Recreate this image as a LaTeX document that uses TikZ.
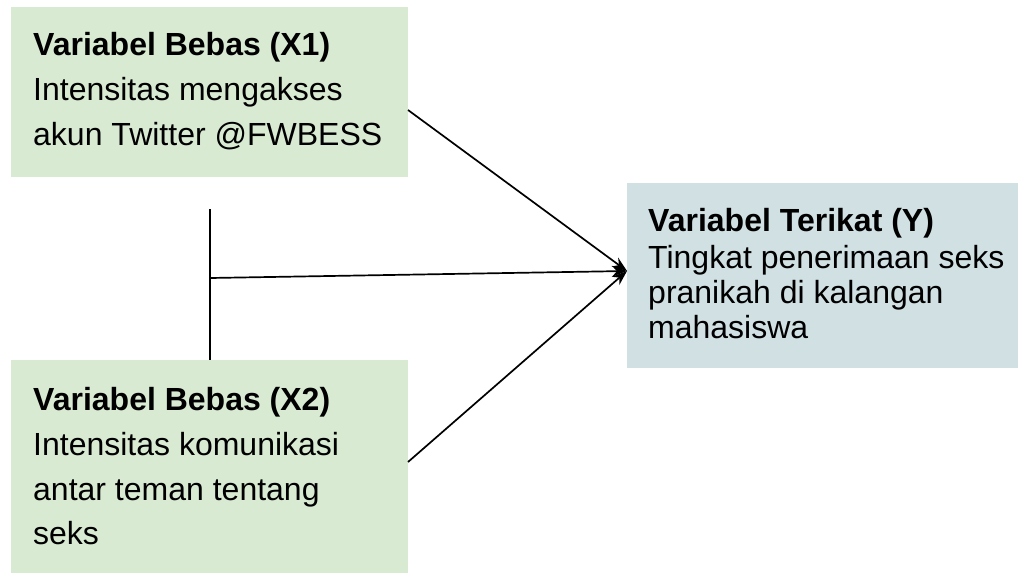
\documentclass[tikz,border=0pt]{standalone}
\usepackage{fontspec}
\setmainfont{Liberation Sans}
\usetikzlibrary{arrows.meta}
\definecolor{greenbg}{HTML}{D9EAD3}
\definecolor{bluebg}{HTML}{D0E0E3}
\begin{document}
\begin{tikzpicture}[x=1pt,y=-1pt,
  box/.style={draw=none, inner sep=0pt, outer sep=0pt, anchor=north west},
  txt/.style={anchor=base west, inner sep=0pt, font=\fontsize{32}{36}\selectfont},
  hd/.style={anchor=base west, inner sep=0pt, font=\fontsize{32}{36}\selectfont\bfseries},
  conn/.style={line width=1.7pt},
  arr/.style={conn, -{Stealth[length=15pt,width=11pt,inset=5pt]}}]
\useasboundingbox (0,0) rectangle (1019,573);
% boxes
\node[box, fill=greenbg, minimum width=397pt, minimum height=170pt] (bx1) at (11,7) {};
\node[box, fill=greenbg, minimum width=397pt, minimum height=213pt] (bx2) at (11,360) {};
\node[box, fill=bluebg, minimum width=391pt, minimum height=185pt] (by) at (627,183) {};
% texts X1
\node[hd] (t11) at (33,55) {Variabel Bebas (X1)};
\node[txt] (t12) at (33,100) {Intensitas mengakses};
\node[txt] (t13) at (33,145) {akun Twitter @FWBESS};
% texts X2
\node[hd] (t21) at (33,410) {Variabel Bebas (X2)};
\node[txt] (t22) at (33,455) {Intensitas komunikasi};
\node[txt] (t23) at (33,500) {antar teman tentang};
\node[txt] (t24) at (33,544) {seks};
% texts Y
\node[hd] (ty1) at (648,231) {Variabel Terikat (Y)};
\node[txt] (ty2) at (648,268) {Tingkat penerimaan seks};
\node[txt] (ty3) at (648,303) {pranikah di kalangan};
\node[txt] (ty4) at (648,338) {mahasiswa};
% connectors
\coordinate (tip) at ([yshift=4.5pt]by.west);
\coordinate (vtop) at (210,209);
\coordinate (vj) at (210,278);
\draw[conn] (vtop) -- (vtop |- bx2.north);
\draw[arr] ([yshift=-18pt]bx1.east) -- (tip);
\draw[arr] (vj) -- (tip);
\draw[arr] ([yshift=4.5pt]bx2.east) -- (tip);
\end{tikzpicture}
\end{document}
